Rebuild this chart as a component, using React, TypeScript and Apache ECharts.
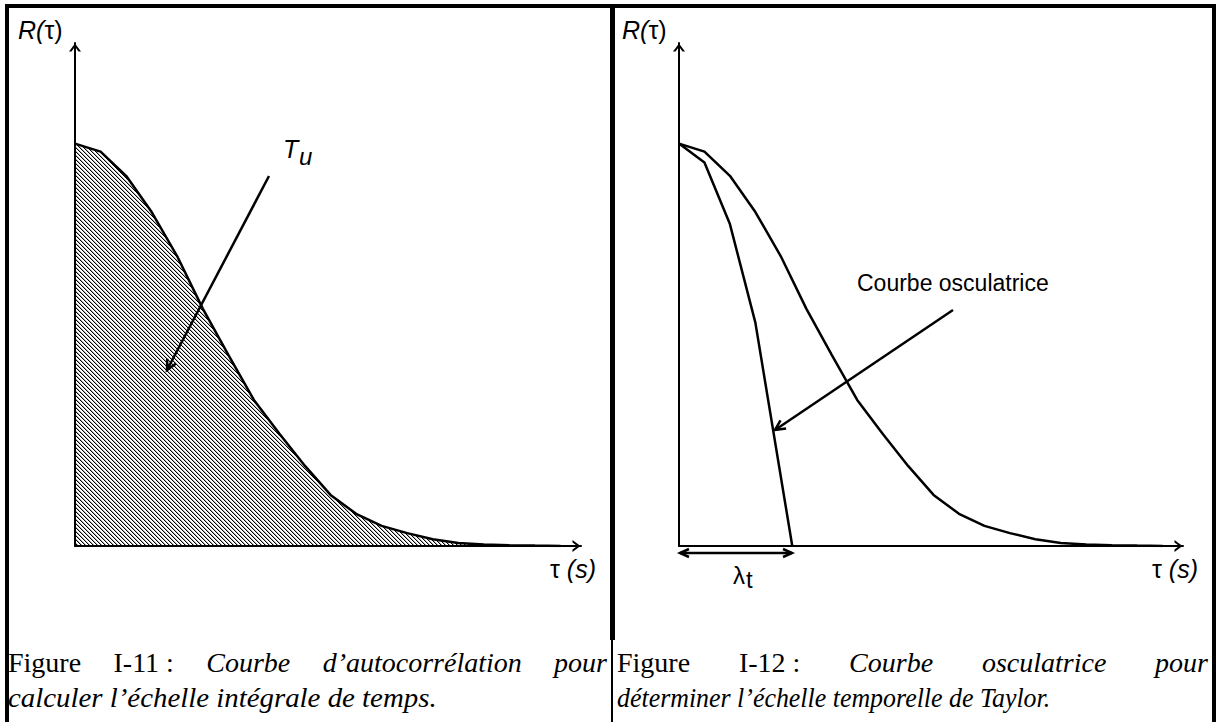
import React, { useEffect, useRef } from "react";
import * as echarts from "echarts";

// ---- data ----
const tauSteps = [0, 1, 2, 3, 4, 5, 6, 7, 8, 9, 10, 11, 12, 13, 14, 15, 16, 17, 18, 19];
const autocorrValues = [
  1.0, 0.98, 0.92, 0.83, 0.72, 0.59, 0.475, 0.363, 0.279, 0.199,
  0.127, 0.08, 0.05, 0.032, 0.017, 0.0075, 0.004, 0.002, 0.001, 0.0003,
];
const osculTau = [0, 1, 2, 3, 4.45];
const osculValues = [1.0, 0.953, 0.8, 0.555, 0];
const tauMax = 19.8;
const rMax = 1.25;

// ---- captions ----
const captionLeft1 = [
  { t: "Figure", i: false },
  { t: "I-11 :", i: false },
  { t: "Courbe", i: true },
  { t: "d\u2019autocorrélation", i: true },
  { t: "pour", i: true },
];
const captionLeft2 = "calculer l\u2019échelle intégrale de temps.";
const captionRight1 = [
  { t: "Figure", i: false },
  { t: "I-12 :", i: false },
  { t: "Courbe", i: true },
  { t: "osculatrice", i: true },
  { t: "pour", i: true },
];
const captionRight2 = "déterminer l\u2019échelle temporelle de Taylor.";

const SANS = '"Liberation Sans", Arial, sans-serif';
const SERIF = '"Liberation Serif", "Times New Roman", serif';
const CAP_SIZE = 28;

const arrowSymbol = "path://M0,8 L6,0 L12,8 L9.5,8 L6,3.3 L2.5,8 Z";

export default function App() {
  const ref = useRef<HTMLDivElement>(null);

  useEffect(() => {
    document.body.style.margin = "0";
    const el = ref.current!;
    const chart = echarts.init(el, null, { renderer: "svg" });

    const mctx = document.createElement("canvas").getContext("2d")!;
    const measure = (text: string, font: string) => {
      mctx.font = font;
      return mctx.measureText(text).width;
    };

    // hatch tile
    const tile = document.createElement("canvas");
    tile.width = 4;
    tile.height = 4;
    const tctx = tile.getContext("2d")!;
    for (let k = 0; k < 4; k++) {
      tctx.fillStyle = "#000";
      tctx.fillRect(k, k, 1, 1);
      tctx.fillStyle = "rgba(0,0,0,0.3)";
      tctx.fillRect((k + 1) % 4, k, 1, 1);
    }

    const txt = (x: number, y: number, text: string, font: string, extra: any = {}) => ({
      type: "text",
      x,
      y,
      silent: true,
      ...extra,
      style: {
        text,
        font,
        fill: "#000",
        textAlign: "left",
        textVerticalAlign: "middle",
        verticalAlign: "middle",
      },
    });

    const pieces = (x: number, y: number, parts: { t: string; font: string; dy?: number }[]) => {
      let cx = x;
      return parts.map((p) => {
        const e = txt(cx, y + (p.dy || 0), p.t, p.font);
        cx += measure(p.t, p.font);
        return e;
      });
    };

    const capFont = (it: boolean) => `${it ? "italic " : ""}${CAP_SIZE}px ${SERIF}`;
    const justified = (words: { t: string; i: boolean }[], x0: number, x1: number, y: number) => {
      const widths = words.map((w) => measure(w.t, capFont(w.i)));
      const total = widths.reduce((a, b) => a + b, 0);
      const gap = (x1 - x0 - total) / (words.length - 1);
      let x = x0;
      return words.map((w, k) => {
        const e = txt(x, y, w.t, capFont(w.i));
        x += widths[k] + gap;
        return e;
      });
    };
    const fitted = (text: string, x0: number, x1: number, y: number) => {
      const nat = measure(text, capFont(true));
      return txt(x0, y, text, capFont(true), { scaleX: (x1 - x0) / nat });
    };

    const line = (x1: number, y1: number, x2: number, y2: number, w = 2.5) => ({
      type: "line",
      silent: true,
      shape: { x1, y1, x2, y2 },
      style: { stroke: "#000", lineWidth: w },
    });
    const head = (fx: number, fy: number, tx: number, ty: number, len: number, half: number, w = 2.5) => {
      const dx = tx - fx;
      const dy = ty - fy;
      const L = Math.hypot(dx, dy);
      const ux = dx / L;
      const uy = dy / L;
      const bx = tx - ux * len;
      const by = ty - uy * len;
      return {
        type: "polyline",
        silent: true,
        shape: { points: [[bx - uy * half, by + ux * half], [tx, ty], [bx + uy * half, by - ux * half]] },
        style: { stroke: "#000", lineWidth: w, fill: null },
      };
    };
    const pointer = (fx: number, fy: number, tx: number, ty: number) => [line(fx, fy, tx, ty), head(fx, fy, tx, ty, 10, 5)];

    const rect = (x: number, y: number, w: number, h: number) => ({
      type: "rect",
      silent: true,
      shape: { x, y, width: w, height: h },
      style: { fill: "#000" },
    });

    const axisCommon = {
      type: "value",
      axisTick: { show: false },
      axisLabel: { show: false },
      splitLine: { show: false },
      axisLine: {
        show: true,
        onZero: false,
        symbol: ["none", arrowSymbol],
        symbolSize: [12, 9],
        symbolOffset: [0, -4.5],
        lineStyle: { color: "#000", width: 2 },
      },
    };

    const labelFont = `25px ${SANS}`;
    const labelFontI = `italic 25px ${SANS}`;

    const graphics: any[] = [
      // frame
      rect(5, 4, 1211, 4),
      rect(5, 4, 4, 718),
      rect(610, 4, 5, 636),
      rect(611, 640, 2, 82),
      rect(1212, 4, 4, 718),
      // R(tau) labels
      ...pieces(18, 30, [
        { t: "R(", font: labelFontI },
        { t: "\u03c4)", font: labelFont },
      ]),
      ...pieces(622, 30, [
        { t: "R(", font: labelFontI },
        { t: "\u03c4)", font: labelFont },
      ]),
      // tau (s)
      ...pieces(550, 569, [
        { t: "\u03c4 ", font: labelFont },
        { t: "(s)", font: labelFontI },
      ]),
      ...pieces(1152, 569, [
        { t: "\u03c4 ", font: labelFont },
        { t: "(s)", font: labelFontI },
      ]),
      // T_u
      txt(283, 149, "T", `italic 25px ${SANS}`),
      txt(299, 156, "u", `italic 24px ${SANS}`),
      ...pointer(269, 176, 167, 370),
      // Courbe osculatrice
      txt(857, 283, "Courbe osculatrice", `23px ${SANS}`),
      ...pointer(953, 310, 775, 430),
      // lambda_t
      line(680, 553, 792, 553, 2.5),
      head(792, 553, 680, 553, 9, 4),
      head(680, 553, 792, 553, 9, 4),
      txt(733, 575, "\u03bb", `24px ${SANS}`),
      txt(746, 579, "t", `24px ${SANS}`),
      // captions
      ...justified(captionLeft1, 8, 607, 662),
      fitted(captionLeft2, 8, 437, 698),
      ...justified(captionRight1, 617, 1208, 662),
      fitted(captionRight2, 617, 1050, 698),
    ];

    chart.setOption({
      animation: false,
      backgroundColor: "#fff",
      grid: [
        { left: 75, top: 43, width: 506, height: 503 },
        { left: 679, top: 43, width: 504, height: 503 },
      ],
      xAxis: [
        { ...axisCommon, gridIndex: 0, min: 0, max: tauMax },
        { ...axisCommon, gridIndex: 1, min: 0, max: tauMax },
      ],
      yAxis: [
        { ...axisCommon, gridIndex: 0, min: 0, max: rMax },
        { ...axisCommon, gridIndex: 1, min: 0, max: rMax },
      ],
      series: [
        {
          type: "line",
          xAxisIndex: 0,
          yAxisIndex: 0,
          data: tauSteps.map((t, k) => [t, autocorrValues[k]]),
          symbol: "none",
          silent: true,
          lineStyle: { color: "#000", width: 2.5 },
          areaStyle: {
            color: { image: tile, repeat: "repeat", imageWidth: 4, imageHeight: 4 } as any,
            opacity: 1,
          },
        },
        {
          type: "line",
          xAxisIndex: 1,
          yAxisIndex: 1,
          data: tauSteps.map((t, k) => [t, autocorrValues[k]]),
          symbol: "none",
          silent: true,
          lineStyle: { color: "#000", width: 2.5 },
        },
        {
          type: "line",
          xAxisIndex: 1,
          yAxisIndex: 1,
          data: osculTau.map((t, k) => [t, osculValues[k]]),
          symbol: "none",
          silent: true,
          lineStyle: { color: "#000", width: 2.5 },
        },
      ],
      graphic: { elements: graphics },
    });

    return () => chart.dispose();
  }, []);

  return (
    <div
      ref={ref}
      style={{ position: "absolute", left: 0, top: 0, width: 1218, height: 722, background: "#fff" }}
    />
  );
}
